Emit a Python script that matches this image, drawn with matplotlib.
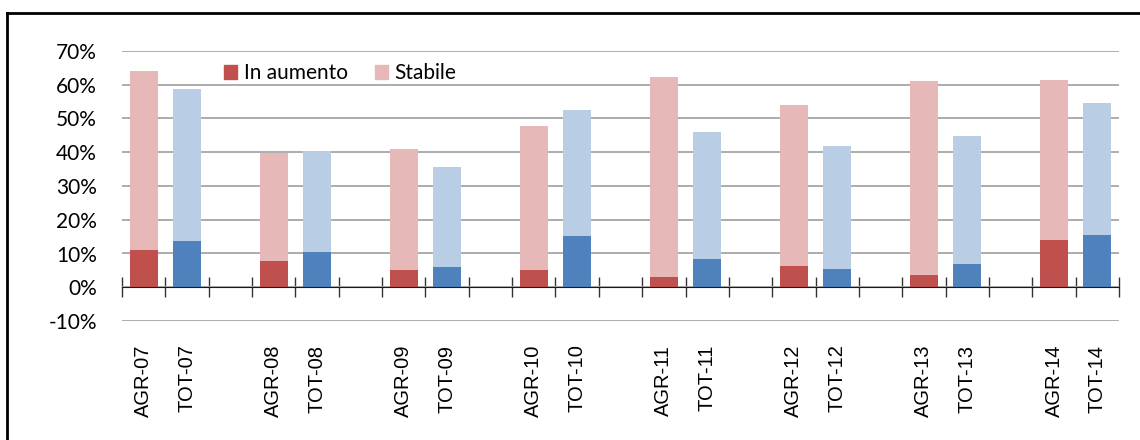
import numpy as np
import matplotlib
matplotlib.use("Agg")
import matplotlib.pyplot as plt
from matplotlib.patches import Patch
from matplotlib.lines import Line2D

plt.rcParams['font.family'] = ['Liberation Sans', 'DejaVu Sans']

# dati (quota % di imprese)
labels = ["AGR-07", "TOT-07", "", "AGR-08", "TOT-08", "", "AGR-09", "TOT-09", "",
          "AGR-10", "TOT-10", "", "AGR-11", "TOT-11", "", "AGR-12", "TOT-12", "",
          "AGR-13", "TOT-13", "", "AGR-14", "TOT-14"]
in_aumento = [11.0, 13.7, 0, 7.7, 10.4, 0, 5.0, 5.9, 0, 5.0, 15.1, 0,
              3.0, 8.3, 0, 6.2, 5.3, 0, 3.6, 6.8, 0, 14.0, 15.4]
totale = [64.1, 58.8, 0, 39.8, 40.4, 0, 41.0, 35.6, 0, 47.8, 52.5, 0,
          62.3, 46.0, 0, 54.0, 41.8, 0, 61.1, 44.8, 0, 61.4, 54.6]
stabile = [t - a for t, a in zip(totale, in_aumento)]

yticks = [-10, 0, 10, 20, 30, 40, 50, 60, 70]

RED, PINK = "#C0504D", "#E6B9B8"
BLUE, LBLUE = "#4F81BD", "#B9CDE5"

fig = plt.figure(figsize=(11.4, 4.4), dpi=100)
ax = fig.add_axes([122 / 1140, 1 - 321 / 440, (1119 - 122) / 1140, (321 - 51) / 440])

x = np.arange(len(labels))
dark = [RED if l.startswith("AGR") else BLUE for l in labels]
light = [PINK if l.startswith("AGR") else LBLUE for l in labels]
ax.bar(x, in_aumento, width=0.65, color=dark, zorder=3)
ax.bar(x, stabile, bottom=in_aumento, width=0.65, color=light, zorder=3)

ax.set_xlim(-0.5, len(labels) - 0.5)
ax.set_ylim(-10, 70)
ax.set_yticks(yticks)
ax.set_yticklabels([f"{v}%" for v in yticks], fontsize=15, family=['Lato', 'DejaVu Sans'])
ax.tick_params(axis='y', length=0, pad=18)
ax.grid(axis='y', color="#A6A6A6", linewidth=1.3, zorder=0)

for s in ["top", "right", "left"]:
    ax.spines[s].set_visible(False)
ax.spines["bottom"].set_position(("data", 0))
ax.spines["bottom"].set_color("#1a1a1a")
ax.spines["bottom"].set_zorder(4)
ax.set_xticks(np.arange(len(labels) + 1) - 0.5)
ax.set_xticklabels([])
ax.tick_params(axis='x', direction='inout', length=15, width=1, color="#333333")

for i, l in enumerate(labels):
    if l:
        ax.text(i, -17.0, l, rotation=90, ha='center', va='top', fontsize=14.5)

handles = [Patch(color=RED), Patch(color=PINK)]
ax.legend(handles, ["In aumento", "Stabile"], loc='center', bbox_to_anchor=(340 / 1140, 1 - 73 / 440),
          bbox_transform=fig.transFigure, ncol=2, frameon=False,
          prop={'family': ['Lato', 'DejaVu Sans'], 'size': 15},
          handlelength=0.65, handleheight=0.65, handletextpad=0.3, columnspacing=1.3)

# cornice del grafico
fig.add_artist(Line2D([6.5 / 1140, 6.5 / 1140], [0, 1 - 13.5 / 440], color="black", linewidth=2))
fig.add_artist(Line2D([6.5 / 1140, 1], [1 - 13.5 / 440, 1 - 13.5 / 440], color="black", linewidth=2))

fig.savefig("out.png", dpi=100)
